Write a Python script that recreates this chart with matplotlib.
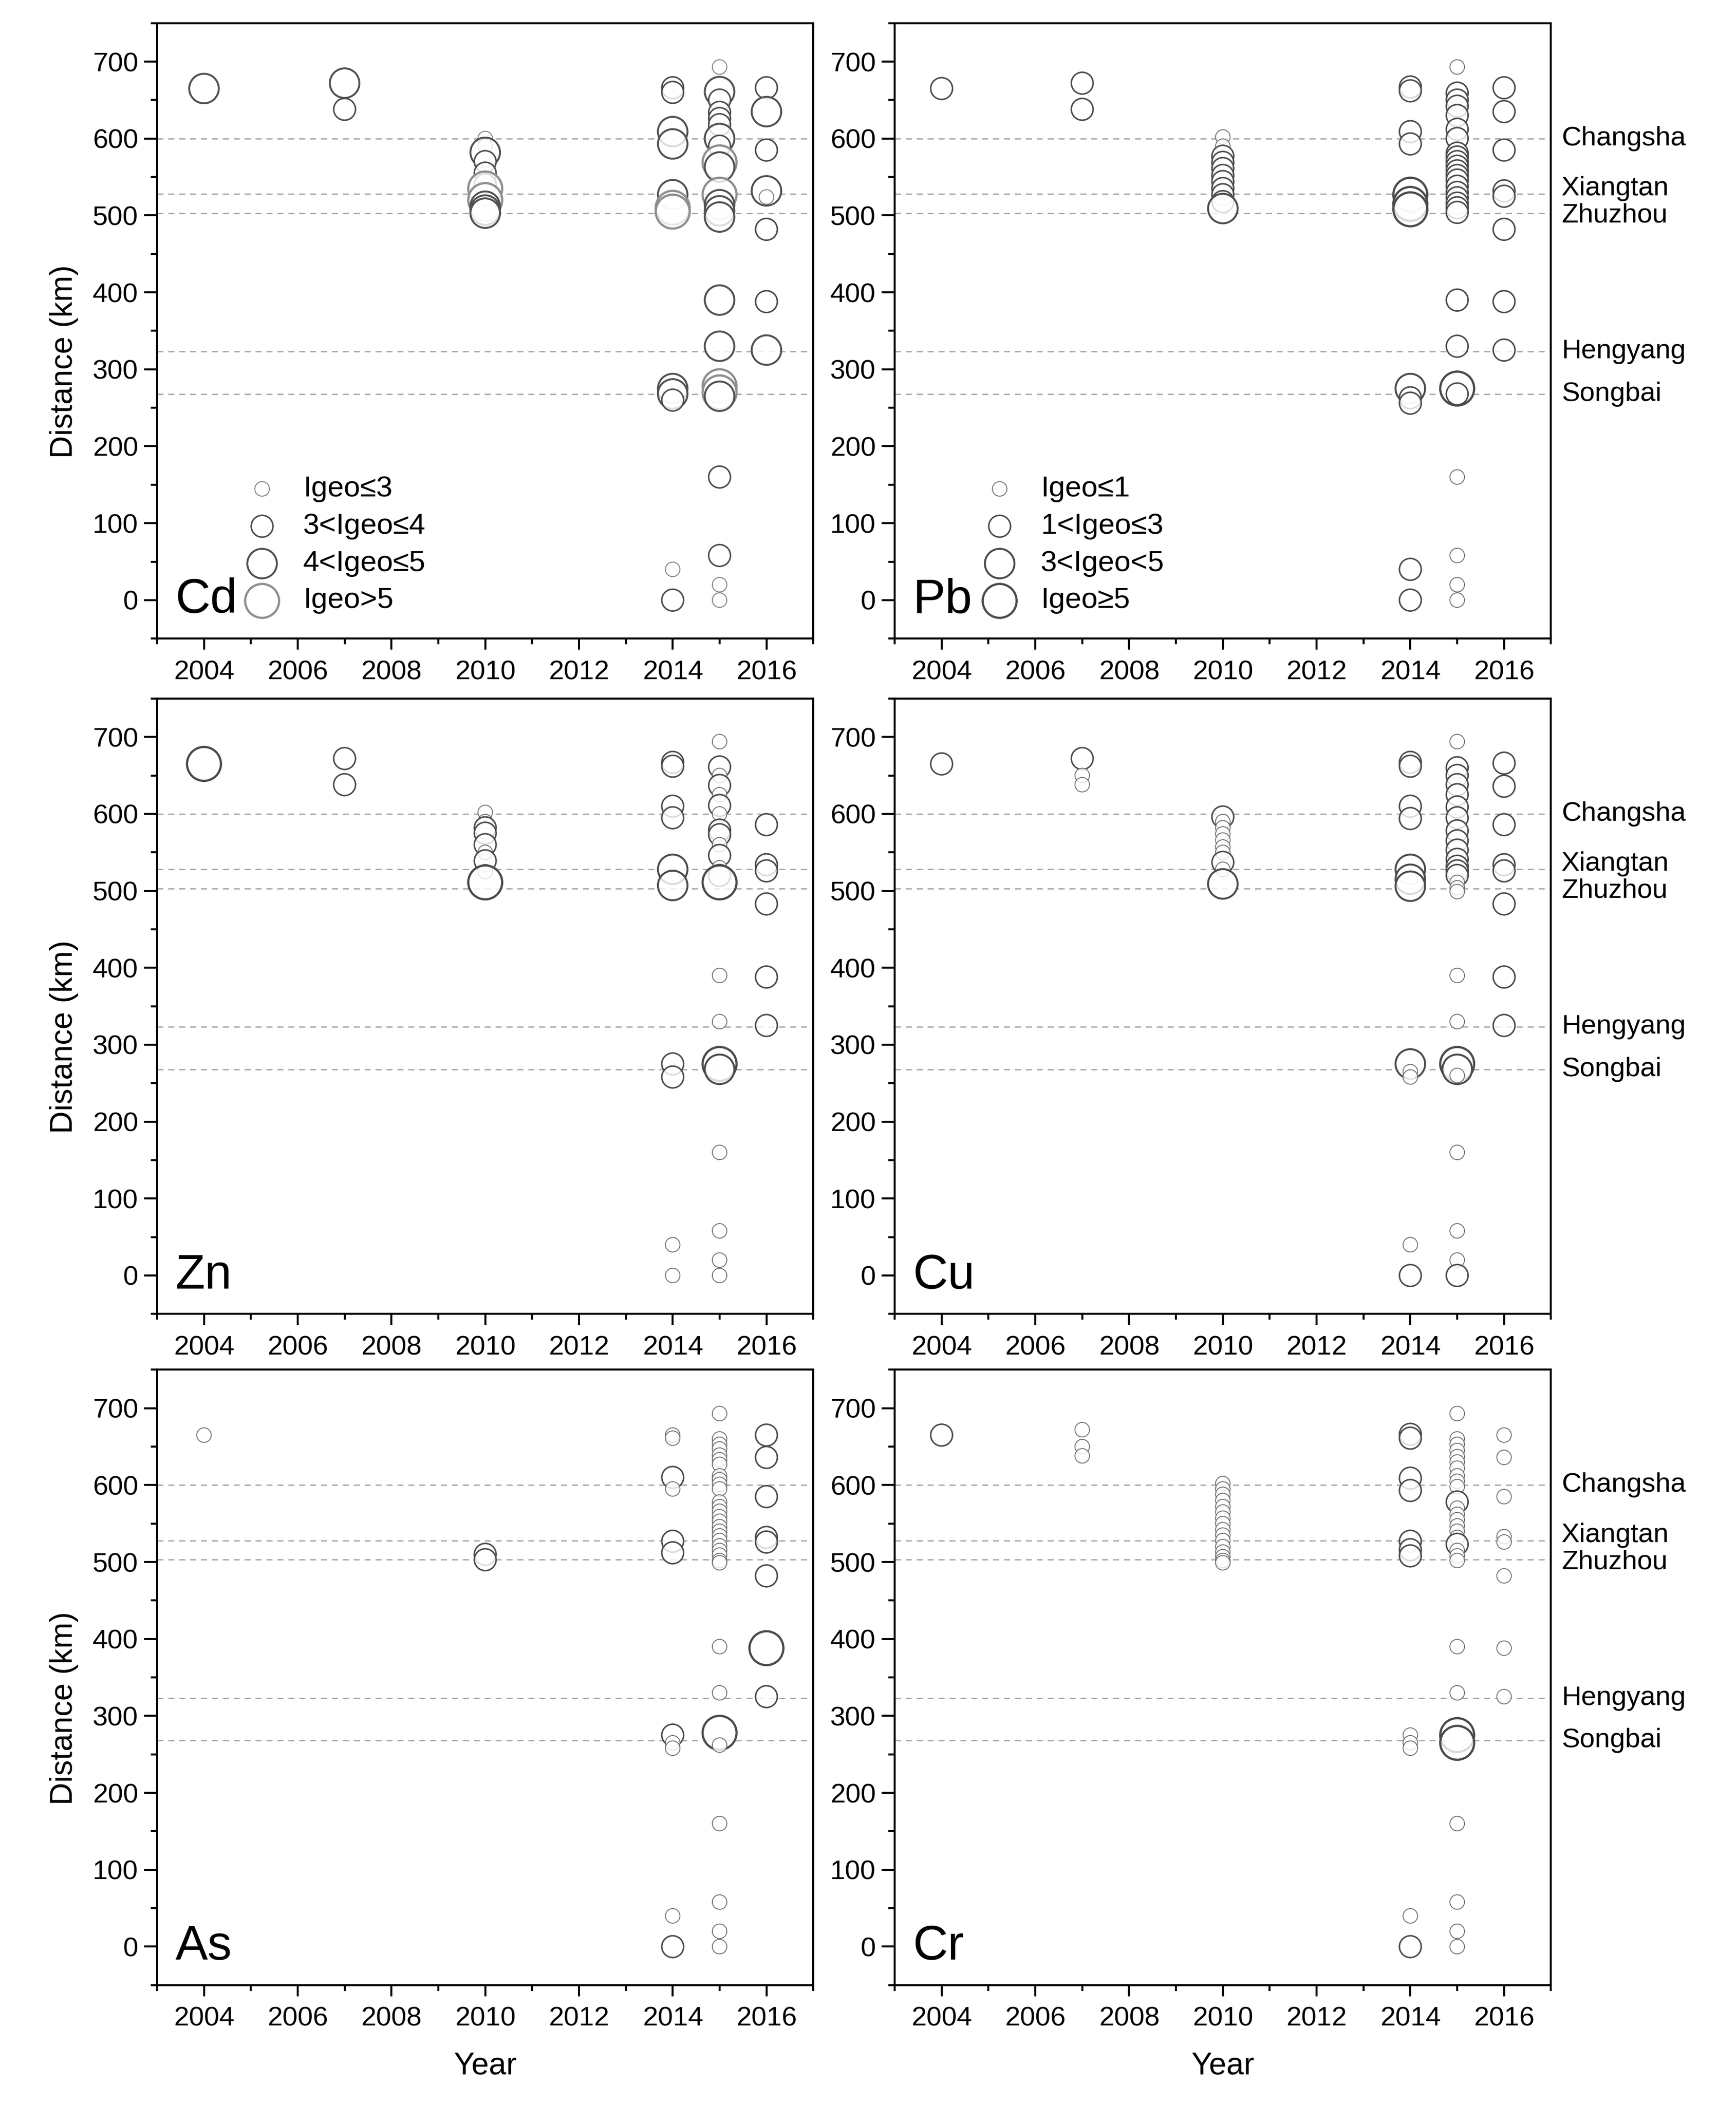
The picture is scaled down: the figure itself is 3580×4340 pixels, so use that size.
import numpy as np
import matplotlib
matplotlib.use('Agg')
import matplotlib.pyplot as plt
from matplotlib.ticker import MultipleLocator
import matplotlib.transforms as mtransforms

plt.rcParams['font.family'] = ['Liberation Sans', 'DejaVu Sans']

# ---- data: year, distance (km), Igeo class (0..3) ----
cd_year = [2004, 2007, 2007] + [2010]*11 + [2014]*12 + [2015]*23 + [2016]*8
cd_km = [665, 672, 638,
         600, 590, 582, 570, 555, 540, 535, 520, 512, 507, 503,
         666, 660, 609, 593, 527, 510, 505, 275, 268, 260, 40, 0,
         693, 661, 650, 634, 626, 618, 600, 590, 569, 563, 527, 514, 506, 498,
         390, 330, 278, 270, 265, 160, 58, 20, 0,
         666, 635, 585, 532, 524, 482, 388, 325]
cd_cls = [2, 2, 1,
          0, 0, 2, 1, 1, 1, 3, 3, 2, 2, 2,
          1, 1, 2, 2, 2, 3, 3, 2, 2, 1, 0, 1,
          0, 2, 1, 1, 1, 1, 2, 1, 3, 2, 3, 2, 2, 2,
          2, 2, 3, 3, 2, 1, 1, 0, 0,
          1, 2, 1, 2, 0, 1, 1, 2]

pb_year = [2004, 2007, 2007] + [2010]*11 + [2014]*12 + [2015]*28 + [2016]*8
pb_km = [665, 672, 638,
         602, 590, 577, 569, 561, 552, 544, 535, 527, 518, 509,
         667, 662, 609, 593, 527, 515, 508, 275, 263, 256, 40, 0,
         693, 659, 650, 642, 630, 612, 600, 581, 576, 570, 564, 558, 552, 546,
         538, 530, 523, 516, 510, 504,
         390, 330, 275, 268, 160, 58, 20, 0,
         666, 635, 585, 532, 525, 482, 388, 325]
pb_cls = [1, 1, 1,
          0, 0, 1, 1, 1, 1, 1, 1, 1, 1, 2,
          1, 1, 1, 1, 3, 3, 3, 2, 1, 1, 1, 1,
          0, 1, 1, 1, 1, 1, 1, 1, 1, 1, 1, 1, 1, 1,
          1, 1, 1, 1, 1, 1,
          1, 1, 3, 1, 0, 0, 0, 0,
          1, 1, 1, 1, 1, 1, 1, 1]

zn_year = [2004, 2007, 2007] + [2010]*9 + [2014]*10 + [2015]*22 + [2016]*6
zn_km = [665, 672, 638,
         602, 590, 582, 575, 560, 550, 539, 525, 511,
         667, 662, 610, 595, 528, 507, 275, 258, 40, 0,
         694, 661, 650, 637, 625, 611, 600, 579, 573, 560, 546, 530, 520, 511,
         390, 330, 275, 268, 160, 58, 20, 0,
         586, 534, 526, 483, 388, 325]
zn_cls = [3, 1, 1,
          0, 0, 1, 1, 1, 0, 1, 0, 3,
          1, 1, 1, 1, 2, 2, 1, 1, 0, 0,
          0, 1, 0, 1, 0, 1, 0, 1, 1, 0, 1, 0, 1, 3,
          0, 0, 3, 2, 0, 0, 0, 0,
          1, 1, 1, 1, 1, 1]

cu_year = [2004, 2007, 2007, 2007] + [2010]*10 + [2014]*12 + [2015]*26 + [2016]*8
cu_km = [665, 672, 650, 638,
         596, 590, 582, 574, 566, 557, 550, 537, 528, 509,
         667, 662, 610, 594, 528, 515, 506, 275, 265, 258, 40, 0,
         694, 660, 650, 638, 625, 609, 595, 578, 565, 553, 541, 532, 526, 520,
         511, 504, 499,
         390, 330, 275, 268, 260, 160, 58, 20, 0,
         666, 636, 586, 534, 526, 483, 388, 325]
cu_cls = [1, 1, 0, 0,
          1, 0, 0, 0, 0, 0, 0, 1, 0, 2,
          1, 1, 1, 1, 2, 2, 2, 2, 0, 0, 0, 1,
          0, 1, 1, 1, 1, 1, 1, 1, 1, 1, 1, 1, 1, 1,
          0, 0, 0,
          0, 0, 3, 2, 0, 0, 0, 0, 1,
          1, 1, 1, 1, 1, 1, 1, 1]

as_year = [2004] + [2010]*2 + [2014]*11 + [2015]*33 + [2016]*8
as_km = [665,
         510, 503,
         665, 661, 610, 595, 527, 512, 275, 265, 258, 40, 0,
         693, 660, 653, 647, 639, 633, 627, 612, 607, 601, 595, 578, 572, 566,
         559, 553, 546, 540, 534, 528, 521, 515, 509, 502, 499,
         390, 330, 278, 262, 160, 58, 20, 0,
         665, 636, 585, 532, 526, 482, 388, 325]
as_cls = [0,
          1, 1,
          0, 0, 1, 0, 1, 1, 1, 0, 0, 0, 1,
          0, 0, 0, 0, 0, 0, 0, 0, 0, 0, 0, 0, 0, 0,
          0, 0, 0, 0, 0, 0, 0, 0, 0, 0, 0,
          0, 0, 3, 0, 0, 0, 0, 0,
          1, 1, 1, 1, 1, 1, 3, 1]

cr_year = [2004, 2007, 2007, 2007] + [2010]*16 + [2014]*12 + [2015]*29 + [2016]*8
cr_km = [665, 672, 650, 638,
         602, 595, 588, 580, 572, 565, 557, 550, 542, 535, 528, 520, 513, 507, 502, 499,
         666, 661, 609, 593, 527, 516, 508, 275, 265, 258, 40, 0,
         693, 660, 653, 645, 637, 630, 622, 612, 605, 598, 578, 570, 562, 555,
         547, 540, 532, 523, 515, 508, 502,
         390, 330, 275, 265, 160, 58, 20, 0,
         665, 636, 585, 533, 526, 482, 388, 325]
cr_cls = [1, 0, 0, 0,
          0, 0, 0, 0, 0, 0, 0, 0, 0, 0, 0, 0, 0, 0, 0, 0,
          1, 1, 1, 1, 1, 1, 1, 0, 0, 0, 0, 1,
          0, 0, 0, 0, 0, 0, 0, 0, 0, 0, 1, 0, 0, 0,
          0, 0, 0, 1, 0, 0, 0,
          0, 0, 3, 3, 0, 0, 0, 0,
          0, 0, 0, 0, 0, 0, 0, 0]

elements = ['Cd', 'Pb', 'Zn', 'Cu', 'As', 'Cr']
years = [cd_year, pb_year, zn_year, cu_year, as_year, cr_year]
dists = [cd_km, pb_km, zn_km, cu_km, as_km, cr_km]
classes = [cd_cls, pb_cls, zn_cls, cu_cls, as_cls, cr_cls]

cd_labels = ['Igeo\u22643', '3<Igeo\u22644', '4<Igeo\u22645', 'Igeo>5']
pb_labels = ['Igeo\u22641', '1<Igeo\u22643', '3<Igeo<5', 'Igeo\u22655']

cities = ['Changsha', 'Xiangtan', 'Zhuzhou', 'Hengyang', 'Songbai']
city_km = [600, 528, 503, 323, 268]

# ---- styles ----
diam_px = np.array([30, 45, 61, 70])
sizes = (diam_px * 72 / 300.0) ** 2
lws = [0.45, 0.75, 0.95, 1.1]
ecols = ['#6f6f6f', '#4a4a4a', '#4a4a4a', '#4a4a4a']
ecols_cd = ['#7a7a7a', '#4a4a4a', '#505050', '#8e8e8e']

fig = plt.figure(figsize=(3580 / 300, 4340 / 300), dpi=300)
lefts = [0.0905, 0.5154]
tops = [0.989, 0.668, 0.349]
w, h = 0.378, 0.2925

for k, el in enumerate(elements):
    row, col = divmod(k, 2)
    ax = fig.add_axes([lefts[col], tops[row] - h, w, h])
    ec_tab = ecols_cd if el == 'Cd' else ecols
    cls = np.array(classes[k])
    ax.scatter(years[k], dists[k], s=sizes[cls],
               facecolors=[(1, 1, 1, 0.8)] * len(cls),
               edgecolors=[ec_tab[c] for c in cls],
               linewidths=[lws[c] for c in cls], zorder=3)
    for yk in city_km:
        ax.axhline(yk, color='#a0a0a0', lw=0.6, ls=(0, (5, 4)), zorder=1)

    ax.set_xlim(2003, 2017)
    ax.set_ylim(-50, 750)
    ax.set_xticks(range(2004, 2017, 2))
    ax.xaxis.set_minor_locator(MultipleLocator(1))
    ax.set_yticks(range(0, 701, 100))
    ax.yaxis.set_minor_locator(MultipleLocator(50))
    ax.tick_params(axis='x', which='major', direction='out', length=5.6, width=1.0,
                   labelsize=13.5, pad=5)
    ax.tick_params(axis='x', which='minor', direction='out', length=2.8, width=1.0)
    ax.tick_params(axis='y', which='major', direction='out', length=6.4, width=1.0,
                   labelsize=13.5, pad=3)
    ax.tick_params(axis='y', which='minor', direction='out', length=3.2, width=1.0)
    for sp in ax.spines.values():
        sp.set_linewidth(1.0)

    ax.text(0.028, 0.062, el, transform=ax.transAxes, fontsize=24,
            va='center', ha='left')

    if col == 0:
        ax.set_ylabel('Distance (km)', fontsize=15.5)
        ax.yaxis.set_label_coords(-0.12, 0.45)
    if row == 2:
        ax.set_xlabel('Year', fontsize=15.5)
        ax.xaxis.set_label_coords(0.5, -0.108)

    if col == 1:
        trans = mtransforms.blended_transform_factory(ax.transAxes, ax.transData)
        offs = [0, 7, -3, 0, 0]
        for name, yk, off in zip(cities, city_km, offs):
            ax.text(1.016, yk + off, name, transform=trans, fontsize=13.5,
                    va='center', ha='left')

    if el in ('Cd', 'Pb'):
        labs = cd_labels if el == 'Cd' else pb_labels
        handles = [ax.scatter([], [], s=sizes[c], facecolors='white',
                              edgecolors=ec_tab[c], linewidths=lws[c])
                   for c in range(4)]
        ax.legend(handles, labs, loc='lower left', bbox_to_anchor=(0.126, 0.04),
                  frameon=False, fontsize=14.5, handlelength=1.5,
                  handletextpad=0.66, borderpad=0, borderaxespad=0,
                  labelspacing=0.36, scatterpoints=1)

fig.savefig('out.png', dpi=300, facecolor='white')
